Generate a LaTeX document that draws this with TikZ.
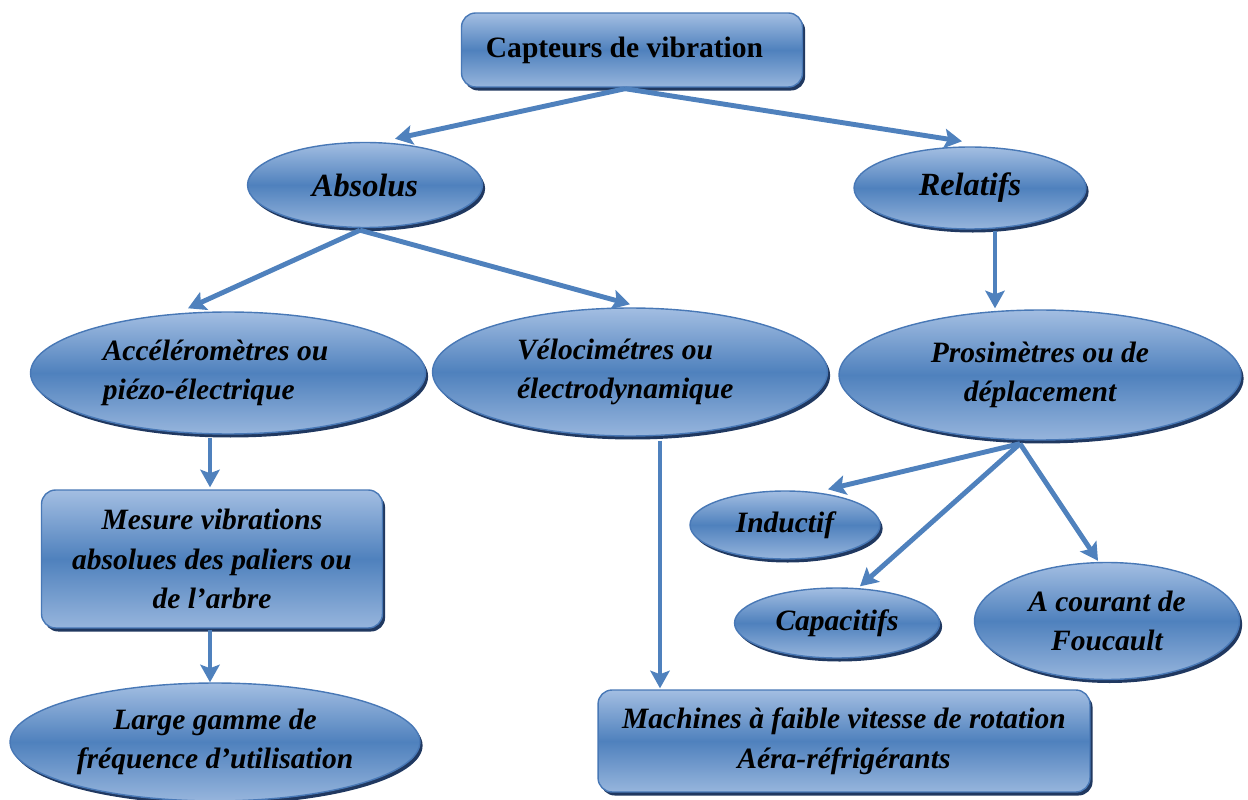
\documentclass[tikz,border=0pt]{standalone}
\usepackage{fontspec}
\setmainfont{Liberation Serif}
\usetikzlibrary{positioning,calc,shapes.geometric,shadows,arrows.meta}
\definecolor{midblue}{RGB}{79,129,189}
\definecolor{paleblue}{RGB}{163,190,226}
\definecolor{edgeblue}{RGB}{72,120,182}
\definecolor{shadeblue}{RGB}{32,56,96}
\tikzset{
bubble/.style={
  ellipse,
  draw=edgeblue,
  line width=0.8pt,
  top color=paleblue,
  bottom color=paleblue!85!midblue,
  middle color=midblue,
  drop shadow={shadow xshift=1.5pt,shadow yshift=-2pt,fill=shadeblue,opacity=1},
  inner sep=0pt,
  align=center,
  font=\fontsize{16.8}{22.6}\selectfont\bfseries\itshape
  },
panel/.style={
  bubble,
  rectangle,
  rounded corners=8pt
  },
link/.style={
  draw=midblue,
  line width=2.8pt,
  -{Stealth[length=10pt,width=11pt,inset=2pt]}
  },
%title/.style={font=\small\sffamily}
}
\begin{document}
\begin{tikzpicture}[x=0.02cm,y=-0.02cm]
    \useasboundingbox (0,0) rectangle (1248,800);
    % boxes and ellipses
    \node [panel,minimum width=6.82cm,minimum height=1.48cm,font=\fontsize{16.8}{20}\selectfont\bfseries] (cap) at (632,50) {Capteurs de vibration\hspace*{0.3cm}};
    \node [bubble,minimum width=4.7cm,minimum height=1.7cm,font=\fontsize{18.4}{22}\selectfont\bfseries\itshape] (abs) at (365,185) {Absolus};
    \node [bubble,minimum width=4.64cm,minimum height=1.64cm,font=\fontsize{18.4}{22}\selectfont\bfseries\itshape] (rel) at (970,188) {Relatifs};
    \node [bubble,minimum width=7.9cm,minimum height=2.44cm,align=left] (acc) at (228,373) {Accéléromètres ou\hspace*{0.5cm}\\piézo-électrique};
    \node [bubble,minimum width=7.9cm,minimum height=2.56cm,align=left] (velo) at (630,372) {Vélocimétres ou\hspace*{0.6cm}\\électrodynamique};
    \node [bubble,minimum width=8.04cm,minimum height=2.6cm] (pros) at (1040,375) {Prosimètres ou de\\déplacement};
    \node [panel,minimum width=6.82cm,minimum height=2.76cm] (mes) at (212,559) {Mesure vibrations\\absolues des paliers ou\\de l’arbre};
    \node [bubble,minimum width=8.2cm,minimum height=2.36cm] (larg) at (215,742) {Large gamme de\\fréquence d’utilisation};
    \node [panel,minimum width=9.84cm,minimum height=2.04cm] (mach) at (844,741) {Machines à faible vitesse de rotation\\Aéra-réfrigérants};
    \node [bubble,minimum width=3.8cm,minimum height=1.36cm] (ind) at (785,525) {Inductif};
    \node [bubble,minimum width=4.1cm,minimum height=1.4cm] (capa) at (837,623) {Capacitifs};
    \node [bubble,minimum width=5.3cm,minimum height=2.34cm] (fouc) at (1107,621) {A courant de\\Foucault};

    \draw [link] ($(cap.south)+(-7,1)$) -- ($(abs.north)+(30,-3)$);
    \draw [link] ($(cap.south)+(-7,1)$) -- ($(rel.north)+(-8,-5)$);
    \draw [link] ($(abs.south)+(-5,2)$) -- ($(acc.north)+(-40,-3)$);
    \draw [link] ($(abs.south)+(-5,2)$) -- ($(velo.north)+(0,-3)$);
    \draw [link] ($(rel.south)+(25,1)$) -- ($(pros.north)+(-45,-1)$);
    \draw [link] ($(acc.south)+(-18,3)$) -- ($(mes.north)+(-2,-2)$);
    \draw [link] ($(mes.south)+(-2,1)$) -- ($(larg.north)+(-5,0)$);
    \draw [link] ($(velo.south)+(30,4)$) -- ($(mach.north)+(-184,-1)$);
    \foreach \t/\dx/\dy in {ind/43/-1, capa/23/-1, fouc/-9/-1}
    {
        \draw [link] ($(pros.south)+(-20,3)$) -- ($(\t.north)+(\dx,\dy)$);
    }
\end{tikzpicture}
\end{document}
